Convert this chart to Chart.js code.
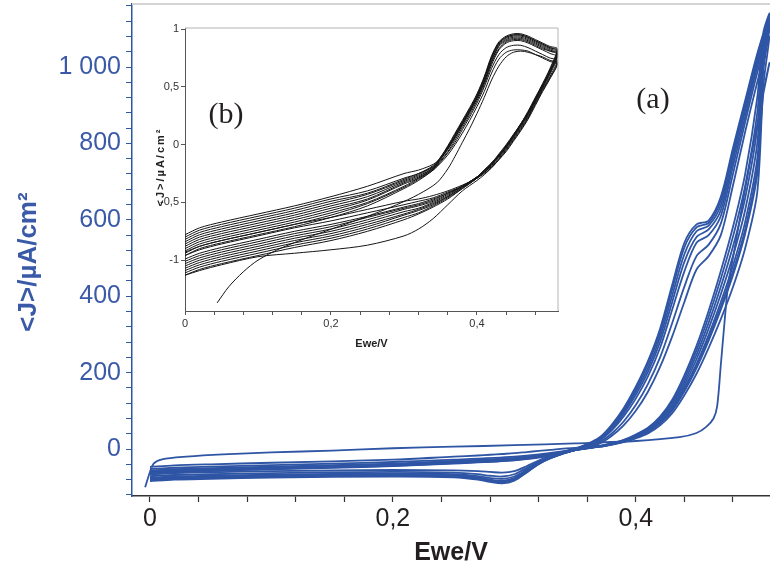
<!DOCTYPE html>
<html>
<head>
<meta charset="utf-8">
<script src="https://cdn.jsdelivr.net/npm/chart.js@4.4.1/dist/chart.umd.min.js"></script>
<style>
  html, body { margin: 0; padding: 0; background: #fff; }
  #wrap { position: relative; width: 770px; height: 572px; }
  #main { position: absolute; left: 0; top: 0; }
  #inset { position: absolute; left: 148px; top: 18px; }
</style>
</head>
<body>
<div id="wrap">
  <canvas id="main" width="770" height="572"></canvas>
  <canvas id="inset" width="416" height="340"></canvas>
</div>
<script>
// ---------- (a) main voltammograms, J in uA/cm2 ----------

// first scan (nucleation loop)
const E_FIRST = [-0.004, 0.0, 0.003, 0.01, 0.03, 0.06, 0.10, 0.15, 0.20, 0.25, 0.30, 0.35, 0.40, 0.436, 0.45, 0.458, 0.464, 0.467, 0.470, 0.473, 0.476, 0.48, 0.49, 0.50, 0.51];
const J_FIRST = [-100, -60, -38, -27, -20, -14, -9, -4, 2, 6, 10, 15, 21, 31, 42, 58, 80, 112, 220, 330, 430, 500, 680, 850, 1010];

// anodic sweeps, cycles 2..8
const E_UP = [0, 0.02, 0.05, 0.10, 0.15, 0.20, 0.25, 0.30, 0.33, 0.35, 0.36, 0.37, 0.38, 0.39, 0.40, 0.41, 0.42, 0.43, 0.44, 0.45, 0.46, 0.47, 0.48, 0.49, 0.50, 0.51];
const J_UP = [
  [-52, -49, -46, -42, -38, -34, -28, -20, -10, -1, 5, 14, 34, 62, 100, 150, 215, 295, 385, 470, 505, 560, 690, 830, 960, 1080],
  [-56, -53, -50, -46, -42, -38, -31, -23, -12, -1, 7, 18, 40, 72, 115, 170, 240, 330, 425, 505, 535, 590, 720, 855, 985, 1100],
  [-58, -55, -52, -48, -44, -40, -33, -25, -14, 0, 9, 22, 48, 85, 132, 190, 265, 365, 465, 540, 560, 610, 740, 870, 1000, 1110],
  [-60, -57, -54, -50, -46, -42, -35, -27, -15, 0, 10, 24, 52, 92, 142, 202, 280, 385, 490, 555, 575, 625, 755, 885, 1010, 1120],
  [-62, -58, -55, -51, -47, -43, -36, -28, -16, 0, 11, 26, 56, 97, 150, 212, 293, 402, 510, 570, 585, 638, 768, 895, 1020, 1128],
  [-64, -60, -57, -52, -48, -44, -37, -29, -16, 1, 12, 28, 60, 102, 156, 222, 305, 418, 528, 580, 592, 650, 778, 905, 1028, 1135],
  [-66, -62, -58, -53, -49, -45, -38, -30, -17, 1, 13, 30, 63, 107, 163, 230, 315, 430, 540, 588, 598, 660, 788, 912, 1035, 1140]
];

// cathodic sweeps, cycles 1..8
const E_DOWN = [0.505, 0.50, 0.49, 0.48, 0.47, 0.46, 0.45, 0.44, 0.43, 0.42, 0.41, 0.40, 0.39, 0.38, 0.37, 0.35, 0.33, 0.32, 0.31, 0.30, 0.29, 0.28, 0.27, 0.25, 0.20, 0.10, 0.05, 0.02, 0];
const J_DOWN = [
  [930, 736, 575, 465, 373, 290, 216, 155, 103, 68, 45, 30, 19, 12, 6, 3, -2, -5, -8, -11, -13, -15, -17, -20, -28, -36, -40, -43, -47],
  [950, 672, 525, 424, 340, 265, 197, 141, 94, 62, 41, 28, 18, 11, 6, -3, -18, -30, -45, -58, -62, -60, -58, -56, -55, -58, -61, -63, -66],
  [990, 720, 563, 455, 365, 284, 212, 151, 101, 67, 44, 30, 19, 12, 6, -3, -20, -33, -50, -66, -72, -70, -66, -62, -60, -63, -66, -68, -71],
  [1010, 760, 594, 480, 385, 299, 223, 160, 106, 70, 47, 31, 20, 12, 7, -3, -21, -35, -54, -72, -78, -76, -71, -66, -64, -67, -70, -72, -75],
  [1030, 800, 625, 505, 405, 315, 235, 168, 112, 74, 49, 33, 21, 13, 7, -3, -22, -37, -57, -76, -83, -80, -74, -68, -66, -69, -72, -74, -77],
  [1050, 840, 656, 530, 425, 331, 247, 176, 118, 78, 51, 35, 22, 14, 7, -3, -23, -38, -59, -79, -86, -82, -76, -70, -68, -71, -74, -76, -79],
  [1070, 880, 688, 556, 446, 347, 259, 185, 123, 81, 54, 36, 23, 14, 8, -3, -23, -39, -61, -81, -88, -84, -78, -72, -70, -73, -76, -78, -81],
  [1090, 920, 719, 581, 466, 362, 270, 193, 129, 85, 56, 38, 24, 15, 8, -3, -24, -40, -62, -83, -90, -86, -80, -74, -72, -75, -78, -80, -84]
];

// axis ticks
const X_TICKS = [0, 0.04, 0.08, 0.12, 0.16, 0.2, 0.24, 0.28, 0.32, 0.36, 0.4, 0.44, 0.48];
const X_LABELS = { 0: "0", 0.2: "0,2", 0.4: "0,4" };
const Y_MINOR_STEP = 40;
const Y_LABELS = { 0: "0", 200: "200", 400: "400", 600: "600", 800: "800", 1000: "1 000" };

// ---------- (b) inset voltammograms ----------

const B_E_FIRST = [0.044, 0.06, 0.08, 0.10, 0.13, 0.17, 0.21, 0.25, 0.29, 0.32, 0.345, 0.36, 0.37, 0.38, 0.39, 0.40, 0.41, 0.42, 0.43, 0.44, 0.45, 0.46, 0.47, 0.48, 0.49, 0.50, 0.51];
const B_J_FIRST = [-1.37, -1.23, -1.10, -1.00, -0.90, -0.80, -0.71, -0.62, -0.52, -0.43, -0.33, -0.21, -0.10, 0.02, 0.14, 0.27, 0.41, 0.56, 0.68, 0.76, 0.80, 0.81, 0.80, 0.78, 0.76, 0.73, 0.71];

const B_E_UP = [0, 0.02, 0.05, 0.10, 0.15, 0.20, 0.25, 0.30, 0.32, 0.34, 0.35, 0.36, 0.37, 0.38, 0.39, 0.40, 0.41, 0.42, 0.43, 0.44, 0.45, 0.46, 0.47, 0.48, 0.49, 0.50, 0.51];
const B_J_UP = [
  [-0.96, -0.90, -0.85, -0.78, -0.71, -0.63, -0.53, -0.38, -0.31, -0.22, -0.16, -0.09, 0.00, 0.10, 0.21, 0.33, 0.46, 0.62, 0.74, 0.80, 0.82, 0.82, 0.81, 0.78, 0.75, 0.72, 0.70],
  [-0.94, -0.88, -0.83, -0.76, -0.69, -0.61, -0.51, -0.37, -0.30, -0.22, -0.15, -0.07, 0.02, 0.13, 0.24, 0.36, 0.50, 0.66, 0.78, 0.84, 0.86, 0.86, 0.84, 0.81, 0.78, 0.75, 0.73],
  [-0.92, -0.86, -0.81, -0.74, -0.67, -0.59, -0.50, -0.36, -0.29, -0.21, -0.14, -0.06, 0.04, 0.15, 0.26, 0.38, 0.52, 0.69, 0.82, 0.88, 0.90, 0.90, 0.88, 0.85, 0.82, 0.79, 0.76],
  [-0.90, -0.84, -0.79, -0.72, -0.65, -0.57, -0.48, -0.34, -0.29, -0.21, -0.13, -0.04, 0.06, 0.17, 0.28, 0.40, 0.54, 0.72, 0.85, 0.90, 0.92, 0.92, 0.90, 0.87, 0.84, 0.81, 0.78],
  [-0.88, -0.82, -0.77, -0.70, -0.63, -0.55, -0.47, -0.33, -0.28, -0.20, -0.12, -0.03, 0.08, 0.19, 0.30, 0.42, 0.57, 0.75, 0.87, 0.92, 0.94, 0.94, 0.92, 0.89, 0.86, 0.83, 0.80],
  [-0.86, -0.80, -0.75, -0.68, -0.61, -0.53, -0.45, -0.32, -0.27, -0.20, -0.12, -0.02, 0.09, 0.20, 0.31, 0.43, 0.58, 0.76, 0.88, 0.93, 0.95, 0.95, 0.93, 0.90, 0.87, 0.84, 0.81],
  [-0.84, -0.78, -0.73, -0.66, -0.59, -0.51, -0.43, -0.31, -0.26, -0.19, -0.12, -0.03, 0.07, 0.18, 0.29, 0.41, 0.55, 0.73, 0.86, 0.91, 0.93, 0.93, 0.91, 0.88, 0.85, 0.82, 0.79],
  [-0.82, -0.76, -0.71, -0.64, -0.57, -0.49, -0.42, -0.30, -0.25, -0.19, -0.11, -0.01, 0.10, 0.21, 0.32, 0.44, 0.59, 0.77, 0.89, 0.94, 0.96, 0.96, 0.94, 0.91, 0.88, 0.85, 0.83],
  [-0.80, -0.74, -0.69, -0.62, -0.55, -0.47, -0.40, -0.29, -0.25, -0.18, -0.11, -0.02, 0.08, 0.19, 0.30, 0.42, 0.57, 0.75, 0.88, 0.93, 0.95, 0.95, 0.93, 0.90, 0.87, 0.84, 0.82],
  [-0.78, -0.72, -0.67, -0.60, -0.53, -0.45, -0.36, -0.25, -0.22, -0.17, -0.12, -0.04, 0.06, 0.17, 0.28, 0.40, 0.54, 0.71, 0.83, 0.89, 0.91, 0.91, 0.89, 0.86, 0.83, 0.81, 0.79]
];

const B_E_DOWN = [0.50, 0.49, 0.48, 0.47, 0.46, 0.45, 0.44, 0.43, 0.42, 0.41, 0.40, 0.38, 0.36, 0.34, 0.32, 0.30, 0.25, 0.20, 0.15, 0.10, 0.05, 0.02, 0];
const B_J_DOWN = [
  [0.58, 0.47, 0.35, 0.23, 0.13, 0.04, -0.05, -0.13, -0.20, -0.26, -0.31, -0.40, -0.52, -0.64, -0.73, -0.79, -0.87, -0.91, -0.94, -0.97, -1.04, -1.09, -1.13],
  [0.57, 0.46, 0.34, 0.22, 0.12, 0.03, -0.06, -0.13, -0.20, -0.25, -0.29, -0.35, -0.40, -0.44, -0.47, -0.49, -0.56, -0.63, -0.69, -0.76, -0.83, -0.88, -0.93],
  [0.59, 0.48, 0.36, 0.24, 0.14, 0.05, -0.04, -0.12, -0.19, -0.24, -0.29, -0.36, -0.41, -0.46, -0.49, -0.52, -0.59, -0.66, -0.72, -0.79, -0.86, -0.91, -0.96],
  [0.61, 0.49, 0.37, 0.25, 0.15, 0.06, -0.03, -0.11, -0.18, -0.24, -0.28, -0.36, -0.42, -0.47, -0.51, -0.54, -0.62, -0.69, -0.75, -0.82, -0.89, -0.94, -0.99],
  [0.62, 0.50, 0.38, 0.26, 0.16, 0.07, -0.02, -0.10, -0.17, -0.23, -0.28, -0.36, -0.42, -0.48, -0.52, -0.55, -0.63, -0.71, -0.77, -0.84, -0.91, -0.96, -1.01],
  [0.63, 0.51, 0.39, 0.27, 0.17, 0.08, -0.01, -0.09, -0.16, -0.22, -0.28, -0.36, -0.43, -0.49, -0.53, -0.56, -0.65, -0.73, -0.79, -0.86, -0.93, -0.98, -1.03],
  [0.64, 0.52, 0.40, 0.28, 0.18, 0.08, -0.01, -0.09, -0.16, -0.22, -0.28, -0.36, -0.44, -0.50, -0.55, -0.58, -0.67, -0.75, -0.81, -0.88, -0.95, -1.00, -1.05],
  [0.63, 0.51, 0.39, 0.27, 0.17, 0.07, -0.02, -0.10, -0.17, -0.23, -0.29, -0.37, -0.45, -0.51, -0.56, -0.60, -0.69, -0.77, -0.83, -0.90, -0.97, -1.02, -1.07],
  [0.66, 0.53, 0.41, 0.29, 0.18, 0.09, 0.00, -0.08, -0.16, -0.22, -0.28, -0.37, -0.45, -0.52, -0.57, -0.61, -0.71, -0.79, -0.85, -0.92, -0.99, -1.04, -1.09],
  [0.65, 0.52, 0.40, 0.28, 0.18, 0.08, -0.01, -0.09, -0.16, -0.23, -0.29, -0.38, -0.46, -0.53, -0.59, -0.63, -0.73, -0.81, -0.87, -0.94, -1.01, -1.06, -1.11],
  [0.63, 0.51, 0.39, 0.27, 0.17, 0.07, -0.02, -0.10, -0.17, -0.23, -0.29, -0.38, -0.47, -0.54, -0.60, -0.65, -0.75, -0.83, -0.89, -0.96, -1.03, -1.08, -1.13]
];

const B_X_TICKS = [0, 0.04, 0.08, 0.12, 0.16, 0.2, 0.24, 0.28, 0.32, 0.36, 0.4, 0.44, 0.48];
const B_Y_TICKS = [-1, -0.5, 0, 0.5, 1];
const B_Y_LABELS = { "-1": "-1", "-0.5": "-0,5", "0": "0", "0.5": "0,5", "1": "1" };

// ---------- helpers ----------
const SANS = "'Liberation Sans', Arial, sans-serif";
const SERIF = "'Liberation Serif', 'Times New Roman', serif";
const BLUE = "#2f55a5";
const BLUE_TEXT = "#3a5aa8";
const INK = "#231f20";

const pts = (E, J) => E.map((e, i) => ({ x: e, y: J[i] }));

// one dataset per cycle: anodic sweep followed by the cathodic one
function cycles(firstUp, ups, E_up, E_down, downs, style) {
  const sets = [];
  downs.forEach((down, i) => {
    const up = i === 0 ? firstUp : pts(E_up, ups[i - 1]);
    sets.push({ data: up.concat(pts(E_down, down)), ...style });
  });
  return sets;
}

// keep the plot box fixed: no extra room for overhanging tick labels
function fixBox(size) {
  return (s) => {
    if (s.isHorizontal()) s.height = size; else s.width = size;
    s.paddingTop = 0;
    s.paddingBottom = 0;
    s.paddingLeft = 0;
    s.paddingRight = 0;
  };
}

// free text and frame lines drawn on top of the chart
const decor = {
  id: "decor",
  afterDraw(chart, args, opts) {
    const ctx = chart.ctx;
    const a = chart.chartArea;
    (opts.frame || []).forEach((side) => {
      ctx.save();
      ctx.strokeStyle = opts.frameColor;
      ctx.lineWidth = opts.frameWidth;
      ctx.beginPath();
      if (side === "top") { ctx.moveTo(a.left, a.top); ctx.lineTo(a.right, a.top); }
      if (side === "right") { ctx.moveTo(a.right, a.top); ctx.lineTo(a.right, a.bottom); }
      ctx.stroke();
      ctx.restore();
    });
    (opts.texts || []).forEach((t) => {
      ctx.save();
      ctx.font = t.font;
      ctx.fillStyle = t.color;
      ctx.textAlign = "center";
      ctx.textBaseline = "middle";
      if (t.spacing) ctx.letterSpacing = t.spacing;
      ctx.translate(t.x, t.y);
      if (t.rotate) ctx.rotate(t.rotate);
      ctx.fillText(t.text, 0, 0);
      ctx.restore();
    });
  },
};

// ---------- (a) ----------
const mainStyle = { borderColor: BLUE, borderWidth: 1.8, pointRadius: 0, showLine: true, tension: 0.3, fill: false };

new Chart(document.getElementById("main"), {
  type: "scatter",
  data: { datasets: cycles(pts(E_FIRST, J_FIRST), J_UP, E_UP, E_DOWN, J_DOWN, mainStyle) },
  options: {
    responsive: false,
    animation: false,
    devicePixelRatio: 1,
    events: [],
    layout: { padding: { top: 4, right: 0, left: 0, bottom: 0 } },
    scales: {
      x: {
        type: "linear",
        min: -0.0148,
        max: 0.5105,
        afterFit: fixBox(76),
        afterBuildTicks: (s) => { s.ticks = X_TICKS.map((v) => ({ value: v })); },
        ticks: {
          autoSkip: false,
          maxRotation: 0,
          padding: 2,
          color: INK,
          font: { family: SANS, size: 25 },
          callback: (v) => X_LABELS[v] ?? "",
        },
        grid: { drawOnChartArea: false, tickLength: 6, color: "#333", tickWidth: 1.2 },
        border: { color: "#333", width: 1.6 },
        title: {
          display: true,
          text: "Ewe/V",
          color: INK,
          font: { family: SANS, size: 25, weight: "bold" },
          padding: { top: 0, bottom: 4 },
        },
      },
      y: {
        type: "linear",
        min: -123,
        max: 1165,
        afterFit: fixBox(132),
        afterBuildTicks: (s) => {
          const t = [];
          for (let v = -120; v <= 1160; v += Y_MINOR_STEP) t.push({ value: v });
          s.ticks = t;
        },
        ticks: {
          autoSkip: false,
          padding: 5,
          color: BLUE_TEXT,
          font: { family: SANS, size: 25 },
          callback: (v) => Y_LABELS[v] ?? "",
        },
        grid: { drawOnChartArea: false, tickLength: 6, color: BLUE, tickWidth: 1 },
        border: { color: BLUE, width: 1.5 },
      },
    },
    plugins: {
      legend: { display: false },
      tooltip: { enabled: false },
      decor: {
        frame: ["top"],
        frameColor: "#d4d4d4",
        frameWidth: 2,
        texts: [
          { text: "<J>/\u00b5A/cm\u00b2", x: 29, y: 262, rotate: -Math.PI / 2, color: BLUE_TEXT, font: `bold 26px ${SANS}` },
          { text: "(a)", x: 653, y: 100, color: INK, font: `30px ${SERIF}` },
        ],
      },
    },
  },
  plugins: [decor],
});

// ---------- (b) ----------
const insetStyle = { borderColor: "#151515", borderWidth: 1, pointRadius: 0, showLine: true, tension: 0.3, fill: false };

new Chart(document.getElementById("inset"), {
  type: "scatter",
  data: { datasets: cycles(pts(B_E_FIRST, B_J_FIRST), B_J_UP, B_E_UP, B_E_DOWN, B_J_DOWN, insetStyle) },
  options: {
    responsive: false,
    animation: false,
    devicePixelRatio: 1,
    events: [],
    layout: { padding: { top: 10, right: 6, left: 0, bottom: 0 } },
    scales: {
      x: {
        type: "linear",
        min: 0,
        max: 0.511,
        afterFit: fixBox(47),
        afterBuildTicks: (s) => { s.ticks = B_X_TICKS.map((v) => ({ value: v })); },
        ticks: {
          autoSkip: false,
          maxRotation: 0,
          padding: 2,
          color: "#333",
          font: { family: SANS, size: 11 },
          callback: (v) => X_LABELS[v] ?? "",
        },
        grid: { drawOnChartArea: false, tickLength: 4, color: "#555" },
        border: { color: "#555", width: 1 },
        title: {
          display: true,
          text: "Ewe/V",
          color: "#222",
          font: { family: SANS, size: 11, weight: "bold" },
          padding: { top: 0, bottom: 7 },
        },
      },
      y: {
        type: "linear",
        min: -1.44,
        max: 1.01,
        afterFit: fixBox(37),
        afterBuildTicks: (s) => { s.ticks = B_Y_TICKS.map((v) => ({ value: v })); },
        ticks: {
          autoSkip: false,
          padding: 2,
          color: "#333",
          font: { family: SANS, size: 11 },
          callback: (v) => B_Y_LABELS[String(v)] ?? "",
        },
        grid: { drawOnChartArea: false, tickLength: 4, color: "#555" },
        border: { color: "#555", width: 1 },
      },
    },
    plugins: {
      legend: { display: false },
      tooltip: { enabled: false },
      decor: {
        frame: ["top", "right"],
        frameColor: "#b4b4b4",
        frameWidth: 1,
        texts: [
          { text: "<J>/\u00b5A/cm\u00b2", x: 13, y: 149, rotate: -Math.PI / 2, color: "#222", font: `bold 11px ${SANS}`, spacing: "2px" },
          { text: "(b)", x: 78, y: 97, color: INK, font: `30px ${SERIF}` },
        ],
      },
    },
  },
  plugins: [decor],
});
</script>
</body>
</html>
